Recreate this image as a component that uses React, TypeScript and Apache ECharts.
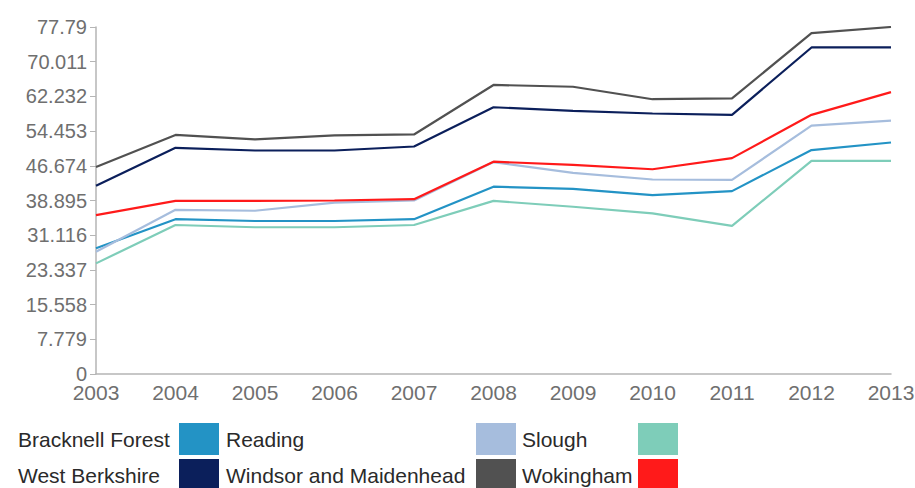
import React, { useEffect, useRef } from "react";
import * as echarts from "echarts";

const years = ["2003", "2004", "2005", "2006", "2007", "2008", "2009", "2010", "2011", "2012", "2013"];

const bracknellForest = [28.2, 34.7, 34.3, 34.3, 34.7, 42.0, 41.5, 40.1, 41.0, 50.2, 51.9];
const reading = [27.4, 36.8, 36.6, 38.4, 38.9, 47.5, 45.1, 43.6, 43.5, 55.7, 56.8];
const slough = [24.8, 33.4, 32.9, 32.9, 33.4, 38.8, 37.5, 36.0, 33.2, 47.8, 47.8];
const westBerkshire = [42.2, 50.7, 50.1, 50.1, 51.0, 59.8, 59.0, 58.4, 58.1, 73.2, 73.2];
const windsorAndMaidenhead = [46.4, 53.6, 52.6, 53.5, 53.7, 64.8, 64.4, 61.6, 61.8, 76.4, 77.79];
const wokingham = [35.6, 38.8, 38.8, 38.9, 39.2, 47.6, 46.9, 45.9, 48.4, 58.1, 63.2];

const yMax = 77.79;
const yStep = 7.779;

const seriesList = [
  { name: "Bracknell Forest", data: bracknellForest, color: "#2393c5" },
  { name: "Reading", data: reading, color: "#a6bddd" },
  { name: "Slough", data: slough, color: "#7ecdb9" },
  { name: "West Berkshire", data: westBerkshire, color: "#0b1f5b" },
  { name: "Windsor and Maidenhead", data: windsorAndMaidenhead, color: "#515151" },
  { name: "Wokingham", data: wokingham, color: "#ff1a1a" },
];

// legend grid: three columns, two rows, label first then its swatch
const legendTextX = [18, 226, 522];
const legendSwatchX = [179, 476, 638];
const legendRowTop = [423, 459];

const labelFont = '"Liberation Sans", Arial, sans-serif';

export default function App() {
  const ref = useRef<HTMLDivElement>(null);

  useEffect(() => {
    if (!ref.current) return;
    const chart = echarts.init(ref.current, null, { renderer: "svg" });

    const legendGraphics: any[] = [];
    seriesList.forEach((s, i) => {
      const row = Math.floor(i / 3);
      const col = i % 3;
      const top = legendRowTop[row];
      legendGraphics.push({
        type: "text",
        x: legendTextX[col],
        y: top + 16,
        style: {
          text: s.name,
          fill: "#2a2a2a",
          font: "21px " + labelFont,
          verticalAlign: "middle",
        },
      });
      legendGraphics.push({
        type: "rect",
        shape: { x: legendSwatchX[col], y: top, width: 40, height: 32 },
        style: { fill: s.color },
      });
    });

    chart.setOption({
      animation: false,
      grid: { left: 96, right: 24, top: 27, bottom: 114, containLabel: false, outerBoundsMode: "none" },
      xAxis: {
        type: "category",
        data: years,
        boundaryGap: false,
        axisLine: { lineStyle: { color: "#b5b5b5", width: 1.5 } },
        axisTick: { show: false },
        axisLabel: {
          color: "#6f6f6f",
          fontSize: 21,
          lineHeight: 16,
          fontFamily: labelFont,
          margin: 10,
          interval: 0,
        },
      },
      yAxis: {
        type: "value",
        min: 0,
        max: yMax,
        interval: yStep,
        splitLine: { show: false },
        axisLine: { show: true, lineStyle: { color: "#b5b5b5", width: 1.5 } },
        axisTick: { show: true, length: 6, lineStyle: { color: "#b5b5b5" } },
        axisLabel: {
          color: "#6f6f6f",
          fontSize: 20,
          lineHeight: 15,
          fontFamily: labelFont,
          margin: 9,
          formatter: (v: number) => String(Math.round(v * 1000) / 1000),
        },
      },
      series: seriesList.map((s) => ({
        name: s.name,
        type: "line",
        data: s.data,
        symbol: "none",
        lineStyle: { color: s.color, width: 2.2 },
        itemStyle: { color: s.color },
      })),
      graphic: legendGraphics,
    });

    return () => chart.dispose();
  }, []);

  return (
    <div
      ref={ref}
      style={{ position: "fixed", left: 0, top: 0, width: 915, height: 488, background: "#fff" }}
    />
  );
}
